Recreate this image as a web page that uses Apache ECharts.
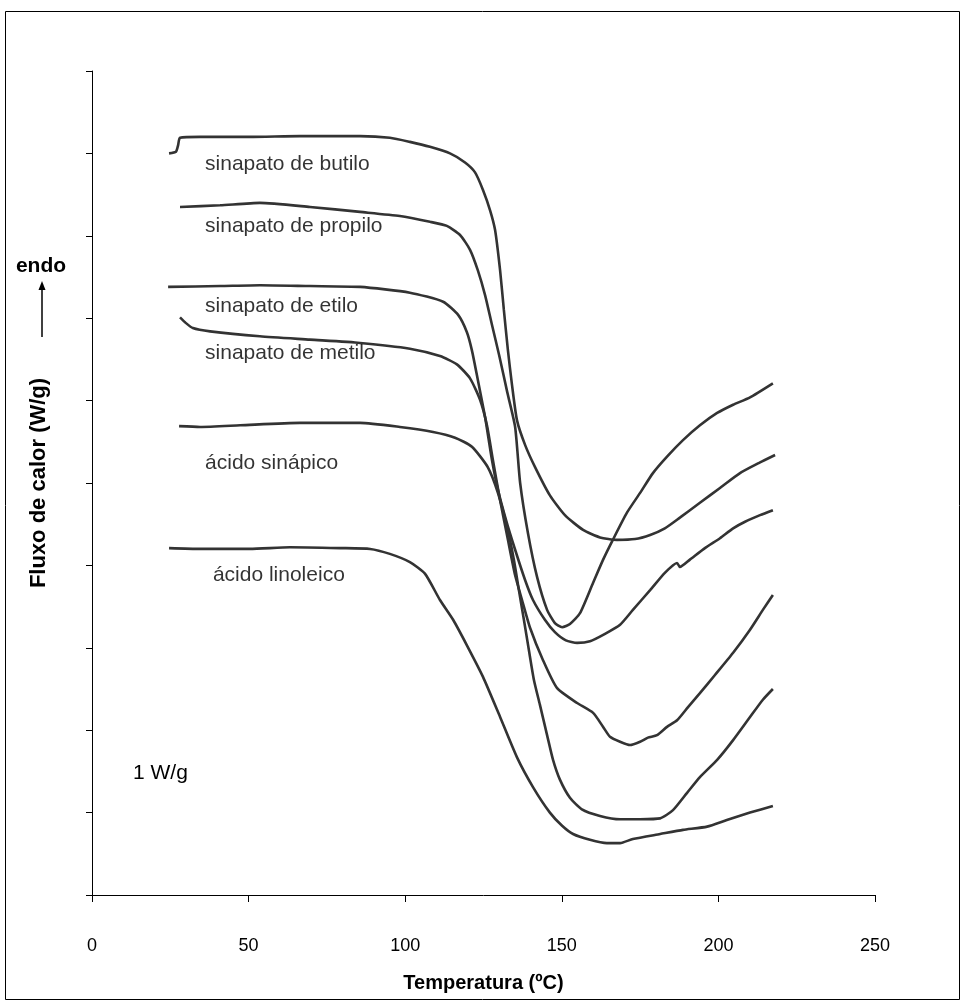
<!DOCTYPE html>
<html>
<head>
<meta charset="utf-8">
<title>DSC</title>
<script src="https://cdn.jsdelivr.net/npm/echarts@6/dist/echarts.min.js"></script>
<style>
  html, body { margin: 0; padding: 0; background: #fff; }
  #chart { width: 965px; height: 1005px; }
</style>
</head>
<body>
<div id="chart"></div>
<script>
// DSC thermograms: heat flow (W/g, curves offset) vs temperature (ºC)
const xTicks = [0, 50, 100, 150, 200, 250];

const butilo = [
  [24.6, 9.00], [26.8, 9.02], [27.5, 9.10], [28.1, 9.19], [34.5, 9.20], [50.4, 9.20],
  [66.4, 9.21], [85.6, 9.21], [95.1, 9.19], [101.5, 9.14], [107.9, 9.08], [114.3, 9.00],
  [119.1, 8.89], [122.3, 8.77], [124.8, 8.56], [127.1, 8.31], [128.7, 8.07], [130.3, 7.58],
  [131.5, 7.10], [132.8, 6.61], [134.1, 6.19], [135.7, 5.76], [138.3, 5.46], [141.5, 5.19],
  [146.2, 4.85], [151.0, 4.61], [156.8, 4.43], [162.2, 4.34], [167.6, 4.31], [173.4, 4.32],
  [178.2, 4.37], [182.9, 4.45], [187.7, 4.58], [194.1, 4.76], [200.5, 4.94], [206.9, 5.12],
  [213.3, 5.25], [218.1, 5.34]
];

const propilo = [
  [28.1, 8.35], [40.9, 8.37], [53.6, 8.40], [69.6, 8.35], [85.6, 8.29], [98.3, 8.24],
  [107.9, 8.17], [113.3, 8.12], [117.5, 8.01], [120.7, 7.83], [123.2, 7.58], [125.5, 7.28],
  [127.7, 6.92], [130.0, 6.55], [132.6, 6.10], [135.1, 5.68], [136.7, 5.00], [139.2, 4.39],
  [142.1, 3.86], [145.3, 3.46], [147.8, 3.30], [150.1, 3.25], [152.6, 3.29], [155.8, 3.42],
  [160.0, 3.79], [163.2, 4.07], [166.3, 4.31], [170.8, 4.64], [175.0, 4.88], [179.1, 5.12],
  [183.6, 5.32], [188.7, 5.52], [194.1, 5.70], [199.6, 5.85], [204.7, 5.95], [210.1, 6.04],
  [217.4, 6.21]
];

const etilo = [
  [24.3, 7.38], [40.9, 7.39], [53.6, 7.40], [69.6, 7.39], [85.6, 7.38], [101.5, 7.31],
  [112.1, 7.20], [116.9, 7.04], [119.7, 6.83], [121.3, 6.61], [123.2, 6.25], [125.5, 5.80],
  [127.7, 5.28], [129.6, 4.92], [132.2, 4.55], [135.1, 4.19], [138.3, 3.82], [140.8, 3.58],
  [144.6, 3.34], [147.8, 3.19], [151.3, 3.09], [154.9, 3.06], [159.0, 3.08], [163.8, 3.17],
  [168.6, 3.28], [172.7, 3.46], [178.2, 3.70], [182.9, 3.91], [186.8, 4.03], [187.7, 3.98],
  [190.9, 4.07], [195.7, 4.21], [200.5, 4.33], [204.7, 4.45], [208.5, 4.53], [213.3, 4.61],
  [217.4, 4.67]
];

const metilo = [
  [28.1, 7.01], [29.7, 6.95], [32.2, 6.88], [37.7, 6.84], [53.6, 6.78], [69.6, 6.74],
  [85.6, 6.70], [101.5, 6.63], [111.1, 6.54], [116.5, 6.44], [120.7, 6.27], [123.9, 6.01],
  [126.1, 5.70], [128.0, 5.28], [130.3, 4.79], [132.8, 4.31], [135.1, 3.88], [137.3, 3.58],
  [139.8, 3.25], [144.0, 2.85], [148.5, 2.51], [154.9, 2.33], [160.0, 2.21], [163.2, 2.04],
  [165.4, 1.92], [168.6, 1.86], [171.8, 1.82], [175.0, 1.86], [177.5, 1.91], [180.4, 1.94],
  [183.6, 2.04], [186.8, 2.12], [190.3, 2.28], [194.1, 2.45], [198.9, 2.67], [204.7, 2.94],
  [210.1, 3.22], [214.2, 3.46], [217.4, 3.64]
];

const sinapico = [
  [27.8, 5.69], [34.5, 5.68], [47.3, 5.70], [66.4, 5.73], [85.6, 5.73], [98.3, 5.68],
  [108.9, 5.62], [115.9, 5.55], [121.3, 5.44], [126.4, 5.19], [129.6, 4.88], [132.5, 4.47],
  [134.7, 4.07], [136.3, 3.70], [137.9, 3.34], [139.5, 2.97], [141.1, 2.61], [143.0, 2.31],
  [145.3, 1.94], [147.2, 1.64], [149.4, 1.40], [152.6, 1.18], [156.4, 1.04], [162.2, 0.96],
  [168.6, 0.92], [175.0, 0.92], [181.4, 0.93], [185.5, 1.03], [190.0, 1.24], [194.1, 1.43],
  [199.6, 1.64], [204.7, 1.88], [210.1, 2.16], [214.2, 2.37], [217.4, 2.50]
];

const linoleico = [
  [24.6, 4.21], [34.5, 4.20], [50.4, 4.20], [63.2, 4.22], [79.2, 4.21], [88.8, 4.20],
  [95.1, 4.14], [101.5, 4.04], [106.3, 3.90], [111.1, 3.58], [115.3, 3.34], [119.7, 3.03],
  [124.8, 2.65], [130.3, 2.16], [135.7, 1.67], [140.8, 1.31], [146.2, 1.00], [150.1, 0.84],
  [153.6, 0.74], [159.0, 0.67], [164.4, 0.63], [168.6, 0.63], [172.7, 0.68], [181.4, 0.74],
  [188.7, 0.79], [196.4, 0.83], [202.7, 0.91], [210.1, 1.00], [217.4, 1.08]
];

const seriesNames = ['sinapato de butilo', 'sinapato de propilo', 'sinapato de etilo',
                     'sinapato de metilo', 'ácido sinápico', 'ácido linoleico'];
const seriesData = [butilo, propilo, etilo, metilo, sinapico, linoleico];

const FONT = 'Arial, "Liberation Sans", sans-serif';
const LINE = '#333333';

const chart = echarts.init(document.getElementById('chart'), null, { renderer: 'canvas' });

// curve labels, placed in data coordinates [temperature, offset value]
const curveLabels = [
  { text: 'sinapato de butilo', at: [36.1, 8.87] },
  { text: 'sinapato de propilo', at: [36.1, 8.12] },
  { text: 'sinapato de etilo', at: [36.1, 7.14] },
  { text: 'sinapato de metilo', at: [36.1, 6.58] },
  { text: 'ácido sinápico', at: [36.1, 5.24] },
  { text: 'ácido linoleico', at: [38.6, 3.88] }
];

function textLabelSeries() {
  return {
    type: 'scatter',
    silent: true,
    symbolSize: 0,
    data: curveLabels.map(l => ({ value: l.at, name: l.text })),
    label: {
      show: true,
      position: 'right',
      distance: 0,
      formatter: p => p.name,
      color: '#000',
      textBorderWidth: 0,
      fontFamily: FONT,
      fontSize: 21
    },
    z: 5
  };
}

const option = {
  animation: false,
  backgroundColor: '#fff',
  grid: { left: 92, right: 90, top: 71, bottom: 110, containLabel: false },
  xAxis: {
    type: 'value',
    min: xTicks[0],
    max: xTicks[xTicks.length - 1],
    interval: 50,
    name: 'Temperatura (ºC)',
    nameLocation: 'middle',
    nameGap: 78,
    nameTextStyle: { color: '#000', fontFamily: FONT, fontSize: 20, fontWeight: 'bold' },
    axisLine: { lineStyle: { color: '#000', width: 1 } },
    axisTick: { show: true, inside: false, length: 7, lineStyle: { color: '#000' } },
    axisLabel: { color: '#000', fontFamily: FONT, fontSize: 18, margin: 42 },
    splitLine: { show: false }
  },
  yAxis: {
    type: 'value',
    min: 0,
    max: 10,
    interval: 1,
    name: 'Fluxo de calor (W/g)',
    nameLocation: 'middle',
    nameGap: 42,
    nameRotate: 90,
    nameTextStyle: { color: '#000', fontFamily: FONT, fontSize: 22, fontWeight: 'bold' },
    axisLine: { show: true, lineStyle: { color: '#000', width: 1 } },
    axisTick: { show: true, inside: false, length: 6, lineStyle: { color: '#000' } },
    axisLabel: { show: false },
    splitLine: { show: false }
  },
  series: seriesData.map((d, i) => ({
    name: seriesNames[i],
    type: 'line',
    data: d,
    showSymbol: false,
    smooth: 0.2,
    lineStyle: { color: LINE, width: 2.6 },
    z: 3
  })).concat([textLabelSeries()]),
  graphic: [
    // outer frame
    { type: 'rect', shape: { x: 5.5, y: 11.5, width: 954, height: 988 },
      style: { fill: 'none', stroke: '#000', lineWidth: 1 }, silent: true },
    // endo marker with upward arrow
    { type: 'text', x: 41, y: 266,
      style: { text: 'endo', fill: '#000', font: 'bold 21px ' + FONT, align: 'center', verticalAlign: 'middle' } },
    { type: 'line', shape: { x1: 42, y1: 337, x2: 42, y2: 288 },
      style: { stroke: '#000', lineWidth: 1.5 } },
    { type: 'polygon', shape: { points: [[42, 281], [38.5, 290], [45.5, 290]] },
      style: { fill: '#000' } },
    // scale note
    { type: 'text', x: 133, y: 773,
      style: { text: '1 W/g', fill: '#000', font: '21px ' + FONT, align: 'left', verticalAlign: 'middle' } }
  ]
};

chart.setOption(option);
</script>
</body>
</html>
